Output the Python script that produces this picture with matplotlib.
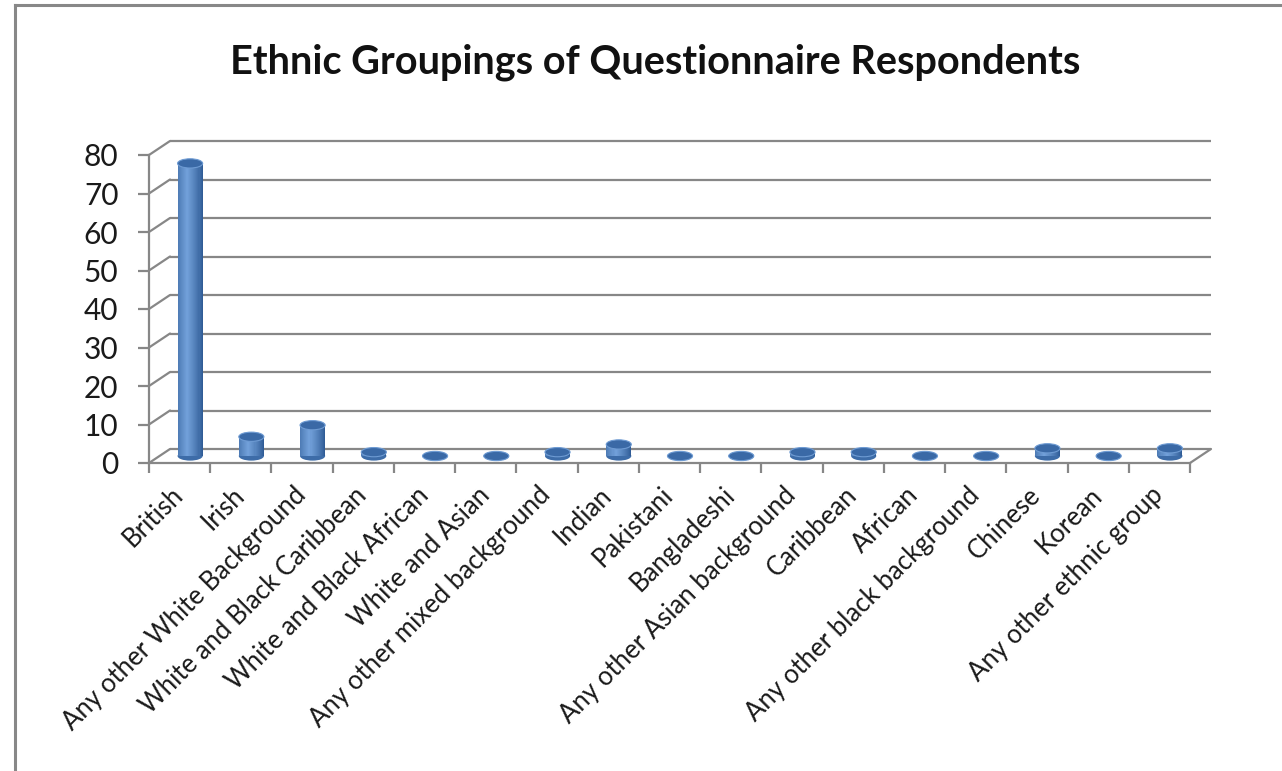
import matplotlib
matplotlib.use('Agg')
import matplotlib.pyplot as plt
import numpy as np
from matplotlib.patches import Ellipse, ConnectionPatch
from matplotlib.lines import Line2D
from matplotlib.transforms import ScaledTranslation
from matplotlib.colors import to_rgb

categories = ['British', 'Irish', 'Any other White Background',
              'White and Black Caribbean', 'White and Black African',
              'White and Asian', 'Any other mixed background', 'Indian',
              'Pakistani', 'Bangladeshi', 'Any other Asian background',
              'Caribbean', 'African', 'Any other black background',
              'Chinese', 'Korean', 'Any other ethnic group']
counts = [76, 5, 8, 1, 0, 0, 1, 3, 0, 0, 1, 1, 0, 0, 2, 0, 2]
yticks = [0, 10, 20, 30, 40, 50, 60, 70, 80]
title = 'Ethnic Groupings of Questionnaire Respondents'

plt.rcParams['font.family'] = ['Lato', 'DejaVu Sans']

W, H, DPI = 1282, 771, 100
fig = plt.figure(figsize=(W / DPI, H / DPI), dpi=DPI)

# front plane of the 3d box, in pixels
x0, x1 = 149, 1190
y0, y80 = 463, 155
ax = fig.add_axes([x0 / W, 1 - y0 / H, (x1 - x0) / W, (y0 - y80) / H])
ax.set_xlim(-0.5, len(categories) - 0.5)
ax.set_ylim(0, 80)
ax.patch.set_visible(False)

DX, DY = 21, 14
back = ax.transData + ScaledTranslation(DX / DPI, DY / DPI, fig.dpi_scale_trans)
mid = ax.transData + ScaledTranslation(DX / 2 / DPI, DY / 2 / DPI, fig.dpi_scale_trans)

grid = '#878787'
lw = 1.6
xl, xr = -0.5, len(categories) - 0.5

# back wall gridlines and left wall slants
for v in yticks:
    ax.plot([xl, xr], [v, v], color=grid, lw=lw, transform=back, zorder=1,
            solid_capstyle='butt', clip_on=False)
    ax.add_artist(ConnectionPatch((xl, v), (xl, v), coordsA=ax.transData,
                                  coordsB=back, color=grid, lw=lw, zorder=1))
# floor right slant
ax.add_artist(ConnectionPatch((xr, 0), (xr, 0), coordsA=ax.transData,
                              coordsB=back, color=grid, lw=lw, zorder=1))

# spines as front edges
for s in ['top', 'right']:
    ax.spines[s].set_visible(False)
for s in ['left', 'bottom']:
    ax.spines[s].set_color(grid)
    ax.spines[s].set_linewidth(lw)
    ax.spines[s].set_zorder(5)

ax.set_yticks(yticks)
ax.tick_params(axis='y', length=8, width=lw, color=grid, labelsize=21.5,
               pad=14, labelcolor='#1a1a1a')
ax.set_xticks(np.arange(xl, xr + 0.01, 1.0))
ax.set_xticklabels([])
ax.tick_params(axis='x', which='major', length=7, width=lw, color=grid)
ax.set_xticks(np.arange(len(categories)), minor=True)
ax.set_xticklabels(categories, minor=True, rotation=45, ha='right',
                   rotation_mode='anchor', fontsize=18.5, color='#1a1a1a')
ax.tick_params(axis='x', which='minor', length=0, pad=14)
shift = ScaledTranslation(-9 / DPI, 0, fig.dpi_scale_trans)
for lab in ax.get_xticklabels(minor=True):
    lab.set_transform(lab.get_transform() + shift)

# cylinders
bw = 0.41
eh = 2.4
nstrip = 24
dark = np.array(to_rgb('#2b5791'))
light = np.array(to_rgb('#72a1da'))
pos = (np.arange(nstrip) + 0.5) / nstrip
shade = np.clip(1 - np.abs(pos - 0.38) / 0.62, 0, 1) ** 0.8
xs = np.arange(len(categories))
vals = np.array(counts, dtype=float)
for k in range(nstrip):
    c = dark + (light - dark) * shade[k]
    off = -bw / 2 + (k + 0.5) * bw / nstrip
    ax.bar(xs + off, vals, width=bw / nstrip * 1.05, color=c, lw=0,
           transform=mid, zorder=3, clip_on=False)
for xi, v in zip(xs, vals):
    ax.add_patch(Ellipse((xi, 0), bw, eh, transform=mid, color='#3d6ca8',
                         lw=0, zorder=2.9, clip_on=False))
    ax.add_patch(Ellipse((xi, v), bw, eh, transform=mid, facecolor='#3a69a6',
                         edgecolor='#6e9bd3', lw=0.8, zorder=4, clip_on=False))

fig.text(655 / W, 1 - 62 / H, title, ha='center', va='center',
         fontsize=28.5, fontweight='bold', color='#111111')

# outer chart frame (cropped at right and bottom)
fig.add_artist(Line2D([14.5 / W, 14.5 / W], [0, 1 - 4.5 / H],
                      transform=fig.transFigure, color='#888888', lw=2.2))
fig.add_artist(Line2D([14.5 / W, 1], [1 - 4.5 / H, 1 - 4.5 / H],
                      transform=fig.transFigure, color='#888888', lw=2.2))

fig.savefig('out.png', dpi=DPI)
